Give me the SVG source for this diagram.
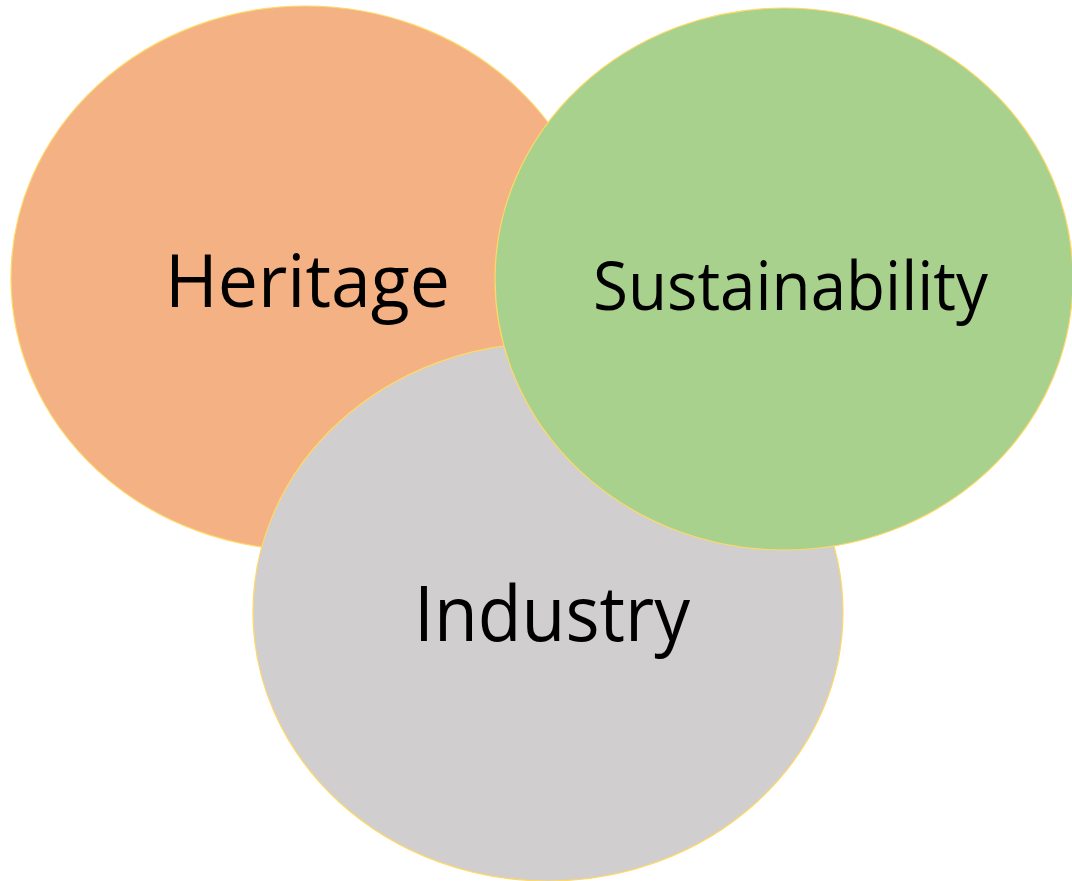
<svg xmlns="http://www.w3.org/2000/svg" width="1072" height="881" viewBox="0 0 1072 881">
  <style>
    .bubble { stroke: #FFD966; stroke-width: 1.2; }
    .label { font-family: "Open Sans", "Liberation Sans", sans-serif; fill: #000000; }
  </style>
  <rect width="1072" height="881" fill="#FFFFFF"/>
  <g id="heritage">
    <ellipse class="bubble" cx="306" cy="278" rx="295" ry="272" fill="#F4B183"/>
    <text class="label" x="165" y="307" font-size="73" textLength="285" lengthAdjust="spacingAndGlyphs">Heritage</text>
  </g>
  <g id="industry">
    <ellipse class="bubble" cx="548" cy="612" rx="295" ry="269" fill="#D0CECE"/>
    <text class="label" x="414" y="641" font-size="76" textLength="276" lengthAdjust="spacingAndGlyphs">Industry</text>
  </g>
  <g id="sustainability">
    <ellipse class="bubble" cx="784" cy="279" rx="289" ry="271" fill="#A9D18E"/>
    <text class="label" x="593" y="310" font-size="67" textLength="395" lengthAdjust="spacingAndGlyphs">Sustainability</text>
  </g>
  <g id="connectors"/>
</svg>
